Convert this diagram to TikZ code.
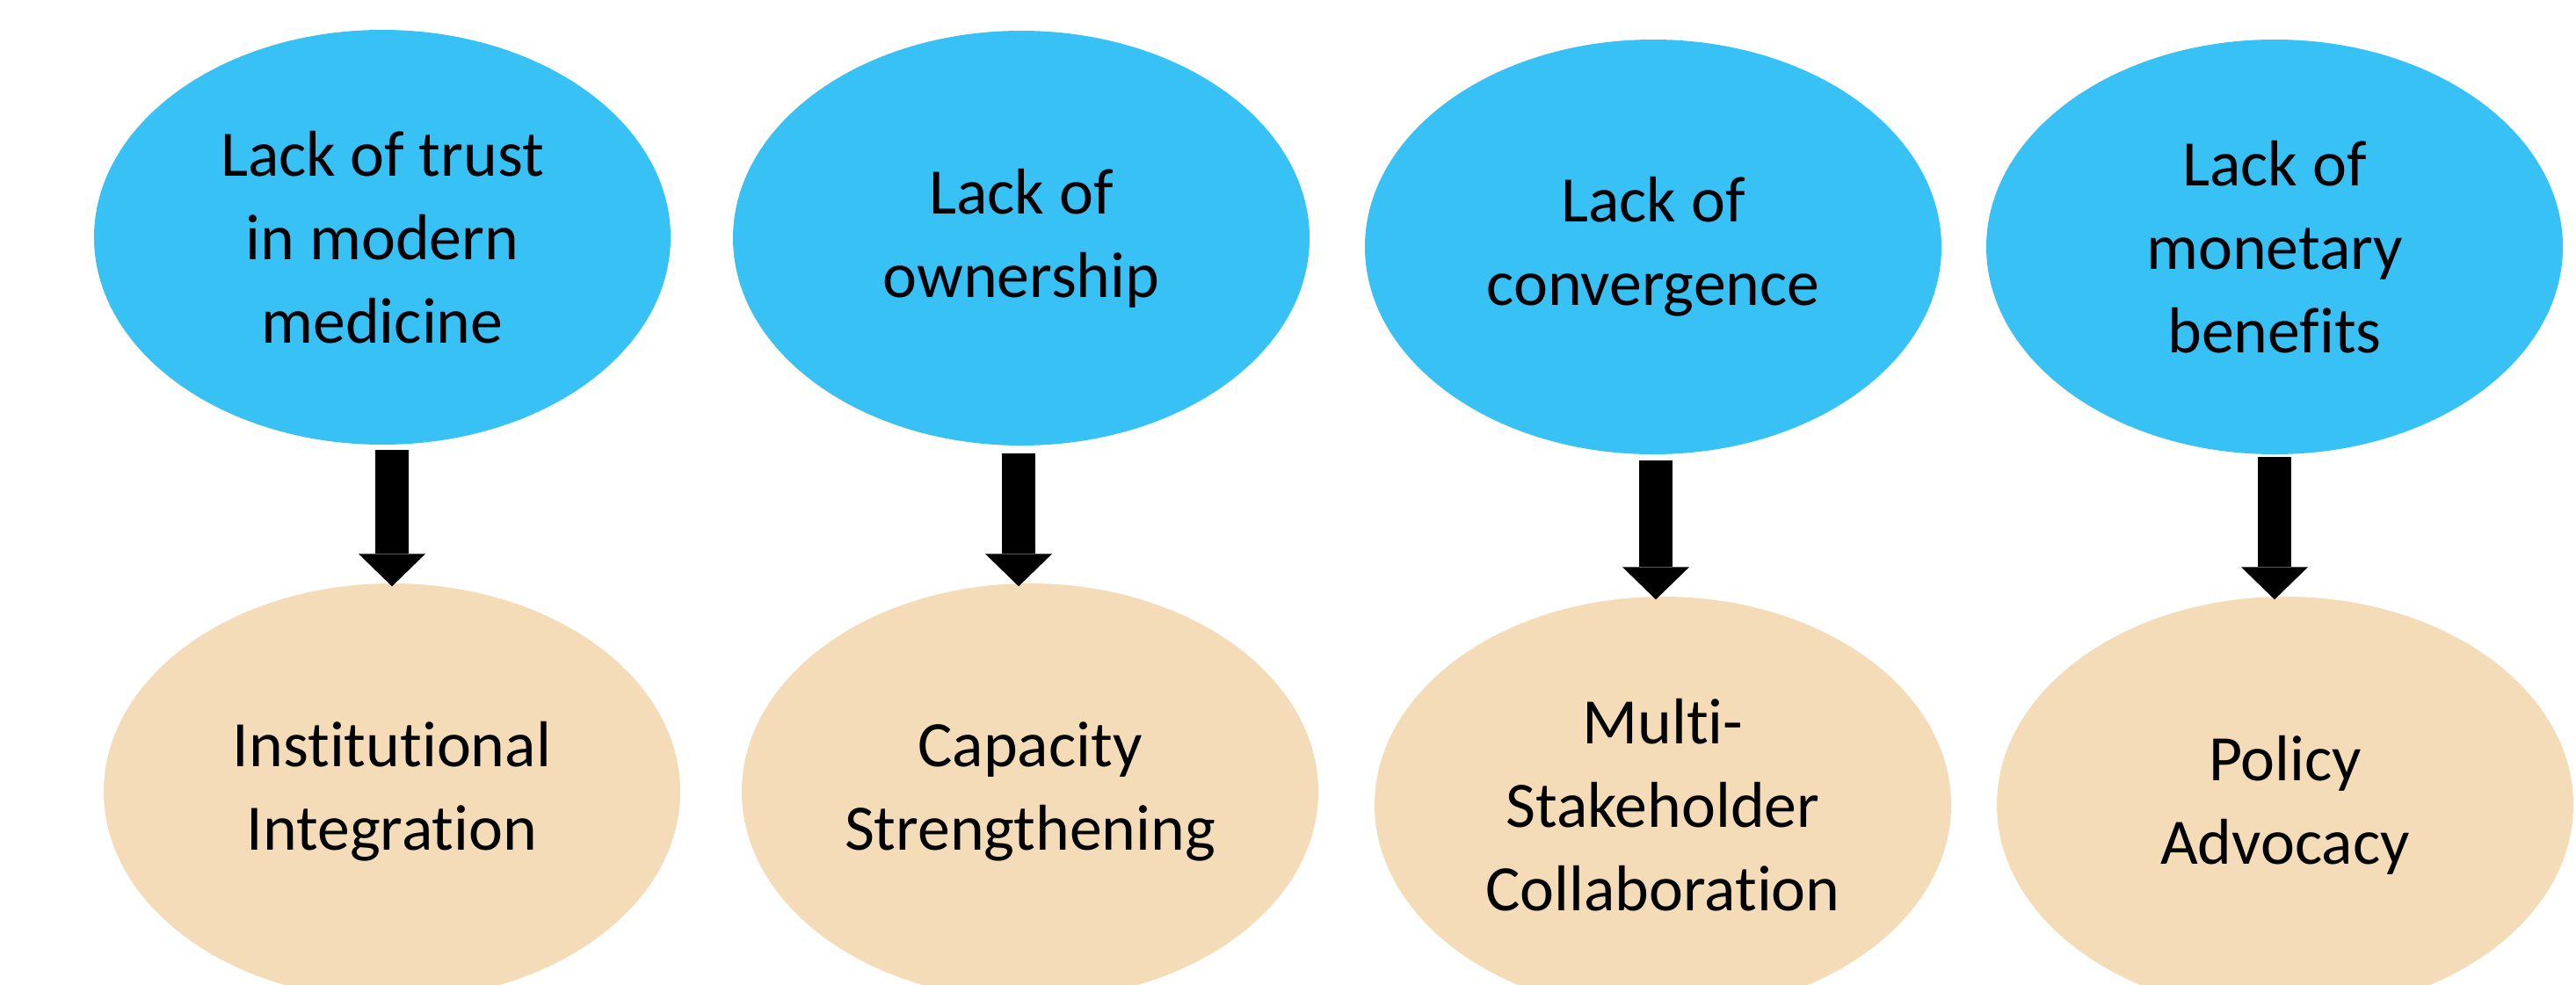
\documentclass[tikz,border=0pt]{standalone}
\usepackage{fontspec}
\setmainfont[Ligatures=NoCommon]{Carlito}
\usetikzlibrary{shapes.geometric,arrows.meta}
\definecolor{probblue}{RGB}{56,193,245}
\definecolor{soltan}{RGB}{245,220,185}
\tikzset{
  problem/.style={ellipse, fill=probblue, draw=none, minimum width=6.56cm, minimum height=4.72cm, inner sep=0pt, align=center, font=\fontsize{21}{27}\selectfont},
  solution/.style={ellipse, fill=soltan, draw=none, minimum width=6.56cm, minimum height=4.74cm, inner sep=0pt, align=center, font=\fontsize{21}{27}\selectfont},
  bigarrow/.style={line width=0.38cm, draw=black, -{Triangle[width=0.76cm,length=0.37cm,line width=0pt]}, shorten >=-0.04cm}
}
\begin{document}
\begin{tikzpicture}
\useasboundingbox (0,0) rectangle (29.31,-11.20);
\node[problem] (t1) at (4.35,-2.70) {Lack of trust\\in modern\\medicine};
\node[problem] (t2) at (11.62,-2.71) {Lack of\\ownership};
\node[problem] (t3) at (18.81,-2.81) {Lack of\\convergence};
\node[problem] (t4) at (25.88,-2.81) {Lack of\\monetary\\benefits};
\node[solution] (b1) at (4.46,-9.01) {Institutional\\Integration};
\node[solution] (b2) at (11.72,-9.01) {Capacity\\Strengthening};
\node[solution] (b3) at (18.92,-9.16) {Multi-\\Stakeholder\\Collaboration};
\node[solution] (b4) at (26.00,-9.16) {Policy\\Advocacy};
\coordinate (a1) at (4.46,-5.12);
\coordinate (a2) at (11.59,-5.16);
\coordinate (a3) at (18.84,-5.24);
\coordinate (a4) at (25.88,-5.20);
\draw[bigarrow] (a1) -- (a1 |- b1.north);
\draw[bigarrow] (a2) -- (a2 |- b2.north);
\draw[bigarrow] (a3) -- (a3 |- b3.north);
\draw[bigarrow] (a4) -- (a4 |- b4.north);
\end{tikzpicture}
\end{document}
